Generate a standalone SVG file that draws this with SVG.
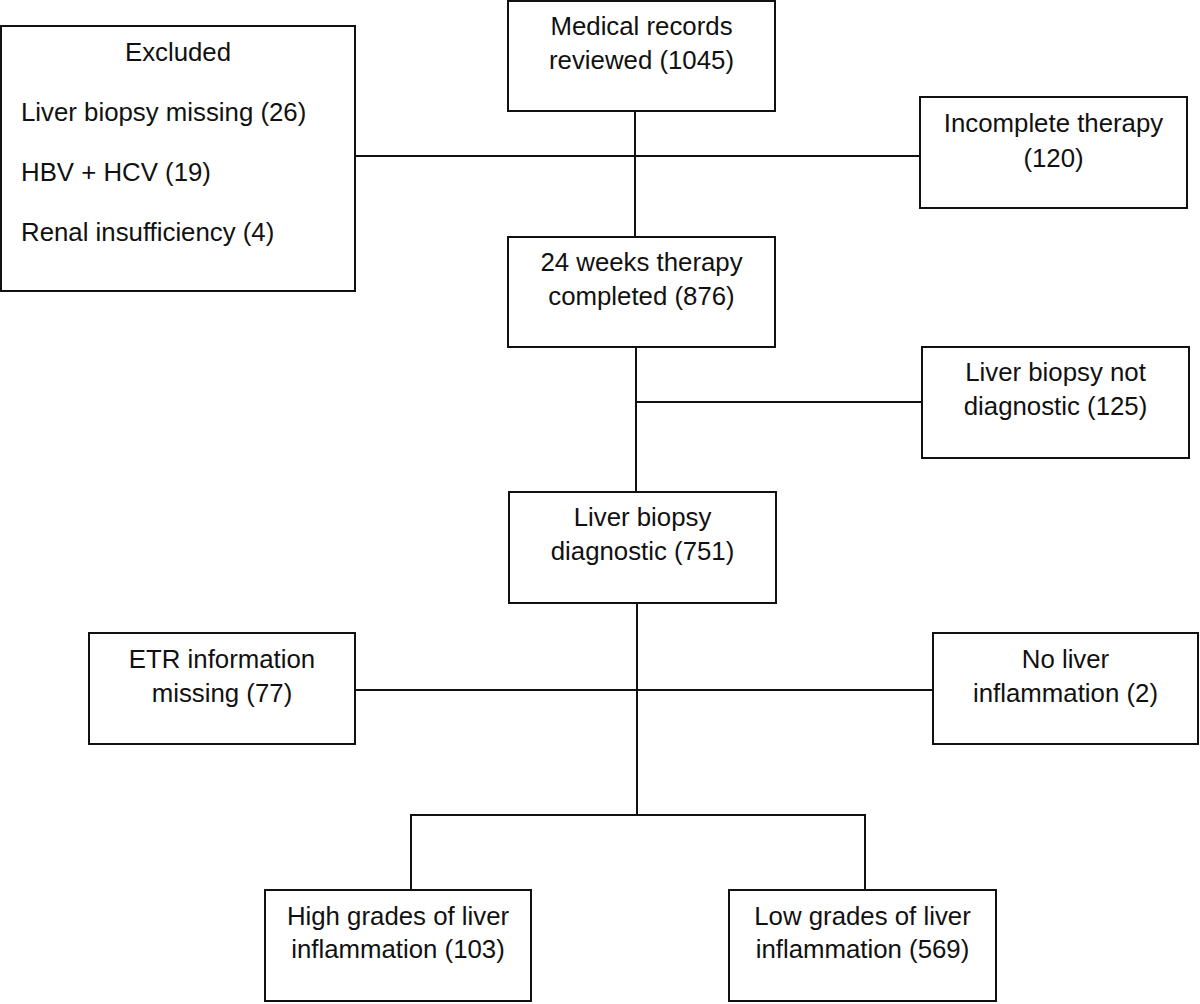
<svg xmlns="http://www.w3.org/2000/svg" width="1200" height="1004" viewBox="0 0 1200 1004">
<style>
.box{fill:#fff;stroke:#111;stroke-width:2}
.ln{stroke:#111;stroke-width:2;fill:none}
text{font-family:"Liberation Sans",Arial,sans-serif;font-size:25.8px;fill:#111}
.c{text-anchor:middle}
</style>
<rect width="1200" height="1004" fill="#fff"/>
<g id="connectors">
<line class="ln" x1="635" y1="111" x2="635" y2="237"/>
<line class="ln" x1="355" y1="156" x2="920" y2="156"/>
<line class="ln" x1="636" y1="347" x2="636" y2="492"/>
<line class="ln" x1="636" y1="402" x2="922" y2="402"/>
<line class="ln" x1="637" y1="603" x2="637" y2="815"/>
<line class="ln" x1="355" y1="690" x2="933" y2="690"/>
<polyline class="ln" points="411,890 411,815 865,815 865,890"/>
</g>
<g id="excluded">
<rect class="box" x="1" y="26" width="354" height="265"/>
<text class="c" x="178" y="61">Excluded</text>
<text x="21" y="121">Liver biopsy missing (26)</text>
<text x="21" y="181">HBV + HCV (19)</text>
<text x="21" y="241">Renal insufficiency (4)</text>
</g>
<g id="medical-records">
<rect class="box" x="508" y="1" width="267" height="110"/>
<text class="c" x="641.5" y="35">Medical records</text>
<text class="c" x="641.5" y="69">reviewed (1045)</text>
</g>
<g id="incomplete-therapy">
<rect class="box" x="920" y="97" width="267" height="111"/>
<text class="c" x="1053.5" y="132">Incomplete therapy</text>
<text class="c" x="1053.5" y="167">(120)</text>
</g>
<g id="therapy-completed">
<rect class="box" x="508" y="237" width="267" height="110"/>
<text class="c" x="641.5" y="271">24 weeks therapy</text>
<text class="c" x="641.5" y="305">completed (876)</text>
</g>
<g id="biopsy-not-diagnostic">
<rect class="box" x="922" y="347" width="267" height="111"/>
<text class="c" x="1055.5" y="381">Liver biopsy not</text>
<text class="c" x="1055.5" y="415">diagnostic (125)</text>
</g>
<g id="biopsy-diagnostic">
<rect class="box" x="509" y="492" width="267" height="111"/>
<text class="c" x="642.5" y="526">Liver biopsy</text>
<text class="c" x="642.5" y="560">diagnostic (751)</text>
</g>
<g id="etr-missing">
<rect class="box" x="89" y="633" width="266" height="111"/>
<text class="c" x="222" y="668">ETR information</text>
<text class="c" x="222" y="702">missing (77)</text>
</g>
<g id="no-inflammation">
<rect class="box" x="933" y="633" width="265" height="111"/>
<text class="c" x="1065.5" y="668">No liver</text>
<text class="c" x="1065.5" y="702">inflammation (2)</text>
</g>
<g id="high-grades">
<rect class="box" x="265" y="890" width="266" height="111"/>
<text class="c" x="398" y="925">High grades of liver</text>
<text class="c" x="398" y="958">inflammation (103)</text>
</g>
<g id="low-grades">
<rect class="box" x="729" y="890" width="267" height="111"/>
<text class="c" x="862.5" y="925">Low grades of liver</text>
<text class="c" x="862.5" y="958">inflammation (569)</text>
</g>
</svg>
